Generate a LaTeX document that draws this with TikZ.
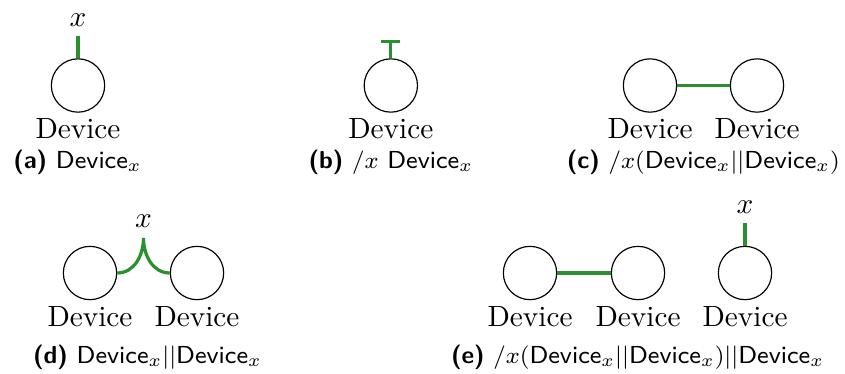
\documentclass[tikz,border=0pt]{standalone}
\usetikzlibrary{positioning,arrows.meta}
\definecolor{linkgreen}{RGB}{40,145,45}
\tikzset{
  dev/.style={draw,circle,minimum size=0.64cm,inner sep=0pt,label={[label distance=-1.5pt]below:Device}},
  link/.style={linkgreen,line width=1.1pt},
  subcap/.style={font=\sffamily\fontsize{8.4}{10}\selectfont}
}
\begin{document}
\begin{tikzpicture}[>=stealth]
    \useasboundingbox (0,0) rectangle (10.14,4.476);
    % (a)
    \node[dev] (a1) at (0.936,3.45) {};
    \coordinate (ax) at (0.936,4.044);
    \draw[link] (a1.north) -- (ax) node[above=-0.6pt,black] {$x$};
    \node[subcap] (capa) at (0.93,2.53) {\textbf{(a)} Device$_x$};
    % (b)
    \node[dev] (b1) at (4.69,3.45) {};
    \coordinate (bx) at (4.69,4.0);
    \draw[link,-{Bar[width=6.5pt,line width=1.1pt]}] (b1.north) -- (bx);
    \node[subcap] (capb) at (4.69,2.53) {\textbf{(b)} $/x$ Device$_x$};
    % (c)
    \node[dev] (c1) at (7.8,3.45) {};
    \node[dev] (c2) at (9.084,3.45) {};
    \draw[link] (c1) -- (c2);
    \node[subcap] (capc) at (8.44,2.53) {\textbf{(c)} $/x($Device$_x||$Device$_x)$};
    % (d)
    \node[dev] (d1) at (1.08,1.2) {};
    \node[dev] (d2) at (2.364,1.2) {};
    \coordinate (dx) at (1.722,1.62);
    \draw[link] (d1.east) to[out=0,in=-90] (dx) to[out=-90,in=180] (d2.west);
    \node[above=0pt] (dlab) at (dx) {$x$};
    \node[subcap] (capd) at (1.77,0.19) {\textbf{(d)} Device$_x||$Device$_x$};
    % (e)
    \node[dev] (e1) at (6.36,1.2) {};
    \node[dev] (e2) at (7.656,1.2) {};
    \node[dev] (e3) at (8.94,1.2) {};
    \coordinate (ex) at (8.94,1.8);
    \draw[link] (e1) -- (e2);
    \draw[link] (e3.north) -- (ex) node[above=-0.6pt,black] {$x$};
    \node[subcap] (cape) at (7.65,0.19) {\textbf{(e)} $/x($Device$_x||$Device$_x)||$Device$_x$};
\end{tikzpicture}
\end{document}
